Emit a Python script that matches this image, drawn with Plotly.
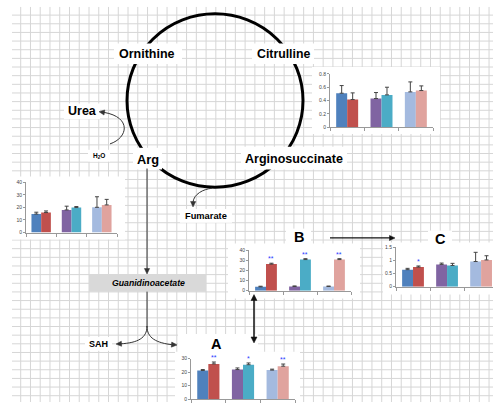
import math
import plotly.graph_objects as go

W, H = 493, 405
FONT = "Liberation Sans, Arial, sans-serif"
BARGAP = 0.36

# ---------------- data ----------------
groups = [0, 1, 2]
left_colors = ["#4f81bd", "#8064a2", "#a4badf"]
right_colors = ["#c0504d", "#4bacc6", "#e0a39e"]

cit_left = [0.51, 0.43, 0.53]
cit_left_err = [0.115, 0.09, 0.15]
cit_right = [0.415, 0.485, 0.55]
cit_right_err = [0.10, 0.115, 0.07]
cit_stars = ["", "", ""]
cit_ticks = [0, 0.2, 0.4, 0.6, 0.8]
cit_ticktext = ["0", "0.2", "0.4", "0.6", "0.8"]

arg_left = [14.7, 18.0, 20.1]
arg_left_err = [1.5, 3.0, 8.4]
arg_right = [15.9, 19.9, 22.0]
arg_right_err = [1.3, 0.8, 4.4]
arg_stars = ["", "", ""]
arg_ticks = [0, 10, 20, 30, 40]
arg_ticktext = ["0", "10", "20", "30", "40"]

b_left = [3.8, 4.1, 4.1]
b_left_err = [0.6, 0.6, 0.5]
b_right = [26.3, 30.8, 30.8]
b_right_err = [0.9, 0.9, 0.9]
b_stars = ["**", "**", "**"]
b_ticks = [0, 10, 20, 30, 40]
b_ticktext = ["0", "10", "20", "30", "40"]

c_left = [0.65, 0.85, 0.96]
c_left_err = [0.05, 0.05, 0.35]
c_right = [0.75, 0.81, 1.02]
c_right_err = [0.04, 0.08, 0.16]
c_stars = ["*", "", ""]
c_ticks = [0, 0.5, 1, 1.5]
c_ticktext = ["0", "0.5", "1", "1.5"]

a_left = [21.2, 21.9, 21.5]
a_left_err = [0.7, 1.2, 0.7]
a_right = [26.1, 25.5, 24.4]
a_right_err = [1.4, 1.3, 1.6]
a_stars = ["**", "*", "**"]
a_ticks = [0, 10, 20, 30]
a_ticktext = ["0", "10", "20", "30"]

insets = [
    dict(l=cit_left, le=cit_left_err, r=cit_right, re=cit_right_err, st=cit_stars,
         tv=cit_ticks, tt=cit_ticktext, box=(330, 433, 72, 126), yr=[0, 0.8], xr=[-0.5, 2.5]),
    dict(l=arg_left, le=arg_left_err, r=arg_right, re=arg_right_err, st=arg_stars,
         tv=arg_ticks, tt=arg_ticktext, box=(26, 117, 182, 233), yr=[0, 40], xr=[-0.5, 2.5]),
    dict(l=b_left, le=b_left_err, r=b_right, re=b_right_err, st=b_stars,
         tv=b_ticks, tt=b_ticktext, box=(249, 351, 251, 292), yr=[0, 40], xr=[-0.5, 2.5]),
    dict(l=c_left, le=c_left_err, r=c_right, re=c_right_err, st=c_stars,
         tv=c_ticks, tt=c_ticktext, box=(396, 493, 248, 288), yr=[0, 1.5], xr=[-0.5, 2.35]),
    dict(l=a_left, le=a_left_err, r=a_right, re=a_right_err, st=a_stars,
         tv=a_ticks, tt=a_ticktext, box=(191, 295, 361, 402), yr=[0, 30], xr=[-0.5, 2.5]),
]

fig = go.Figure()
annotations = []
shapes = []

fig.update_layout(
    xaxis=dict(range=[0, W], domain=[0, 1], visible=False, fixedrange=True),
    yaxis=dict(range=[H, 0], domain=[0, 1], visible=False, fixedrange=True),
)
fig.add_trace(go.Scatter(x=[0], y=[0], mode="markers", marker=dict(opacity=0),
                         hoverinfo="skip", showlegend=False, xaxis="x", yaxis="y"))

half = (1 - BARGAP) / 4.0
for i, ins in enumerate(insets):
    n = i + 2
    xa, ya = f"x{n}", f"y{n}"
    x0, x1, y0, y1 = ins["box"]
    for vals, errs, cols in ((ins["l"], ins["le"], left_colors), (ins["r"], ins["re"], right_colors)):
        fig.add_trace(go.Bar(x=groups, y=vals, marker=dict(color=cols, line=dict(width=0)),
                             error_y=dict(type="data", array=errs, arrayminus=[0, 0, 0], symmetric=False,
                                          color="#444", thickness=1, width=2),
                             xaxis=xa, yaxis=ya, showlegend=False, hoverinfo="skip"))
    fig.layout[f"xaxis{n}"] = dict(domain=[x0 / W, min(x1 / W, 1)], range=ins["xr"], anchor=ya,
                                    tickvals=[-0.5, 0.5, 1.5, 2.5], ticks="outside", ticklen=3,
                                    tickcolor="#999", showticklabels=False, showgrid=False,
                                    showline=True, linecolor="#999", linewidth=1, zeroline=False,
                                    fixedrange=True)
    fig.layout[f"yaxis{n}"] = dict(domain=[1 - y1 / H, 1 - y0 / H], range=ins["yr"], anchor=xa,
                                    tickvals=ins["tv"], ticktext=ins["tt"], ticks="outside",
                                    ticklen=2, tickcolor="#999",
                                    tickfont=dict(size=5, color="#444", family=FONT),
                                    showgrid=False, showline=True, linecolor="#999", linewidth=1,
                                    zeroline=False, fixedrange=True)
    for g, s in enumerate(ins["st"]):
        if s:
            annotations.append(dict(x=g + half, y=ins["r"][g] + ins["re"][g], xref=xa, yref=ya,
                                    text=s, showarrow=False, yanchor="bottom", yshift=-1,
                                    font=dict(size=7, color="#2a3cff", family=FONT)))

# ---------------- background grid ----------------
GRID = "#d6d6d6"
gx = 20.7
while gx < W:
    shapes.append(dict(type="line", xref="x", yref="y", x0=gx, x1=gx, y0=4, y1=H,
                       line=dict(color=GRID, width=1), layer="below"))
    gx += 9.757
gy = 12.3
while gy < H:
    shapes.append(dict(type="line", xref="x", yref="y", x0=12, x1=W, y0=gy, y1=gy,
                       line=dict(color=GRID, width=1), layer="below"))
    gy += 8.78

def white(x0, y0, x1, y1):
    shapes.append(dict(type="rect", xref="x", yref="y", x0=x0, x1=x1, y0=y0, y1=y1,
                       fillcolor="white", line=dict(width=0), layer="below"))

white(312, 65, 440, 133)
white(5, 176, 125, 240)
white(228, 244, 360, 300)
white(383, 243, 493, 296)
white(175, 354, 300, 405)

shapes.append(dict(type="circle", xref="x", yref="y", x0=127, x1=303, y0=11, y1=187,
                   line=dict(color="black", width=3), layer="below"))

white(114, 41, 182, 62)
white(252, 41, 314, 62)
white(64, 102, 100, 118)
white(88, 149, 110, 161)
white(133, 147, 162, 169)
white(241, 146, 347, 169)
white(180, 209, 232, 223)
white(85, 339, 112, 353)
white(178, 336, 258, 357)
white(286, 229, 311, 246)
white(428, 231, 452, 247)

shapes.append(dict(type="rect", xref="x", yref="y", x0=89, x1=206, y0=275, y1=293,
                   fillcolor="#d9d9d9", line=dict(width=0), layer="below"))

LC = "#333333"
def path(d, w=1, c=LC):
    shapes.append(dict(type="path", xref="x", yref="y", path=d,
                       line=dict(color=c, width=w), layer="below"))

def head(x, y, fx, fy, c=LC, L=5.5, hw=2.6):
    dx, dy = x - fx, y - fy
    d = math.hypot(dx, dy)
    ux, uy = dx / d, dy / d
    bx, by = x - ux * L, y - uy * L
    px, py = -uy * hw, ux * hw
    shapes.append(dict(type="path", xref="x", yref="y",
                       path=f"M{x:.2f},{y:.2f} L{bx + px:.2f},{by + py:.2f} L{bx - px:.2f},{by - py:.2f} Z",
                       fillcolor=c, line=dict(color=c, width=0.5), layer="below"))

path("M147,168 L147,270")
head(147, 275, 147, 168)
path("M147,293 L147,329")
path("M147,328 C147,340 138,345 120,346")
head(116, 346.2, 123, 345.8)
path("M147,328 C147,340 156,345 173,347")
head(177, 347.2, 170, 346.6)
path("M212,188 C203,189 194,194 193,202")
head(193, 207, 193.2, 200)
path("M110,143 C128,137 132,116 104,111")
head(99, 110.3, 106, 111.4)
path("M330,238.5 L390,238.5", w=1.2, c="#111")
head(395, 238.5, 330, 238.5, c="#111")
path("M254,301 L254,340", w=1.5, c="#111")
head(254, 345, 254, 300, c="#111", L=6, hw=3)
head(254, 296, 254, 340, c="#111", L=6, hw=3)

def label(t, x, y, size, italic=False):
    txt = f"<b>{t}</b>"
    if italic:
        txt = f"<i>{txt}</i>"
    annotations.append(dict(x=x, y=y, xref="x", yref="y", text=txt, showarrow=False,
                            font=dict(size=size, color="black", family=FONT),
                            xanchor="center", yanchor="middle"))

label("Ornithine", 147, 52, 12.5)
label("Citrulline", 283.5, 52, 12.3)
label("Urea", 82, 110, 12.5)
label("Arg", 147.5, 159, 12.8)
label("Arginosuccinate", 294, 158, 12.5)
label("Fumarate", 206, 216, 9.3)
label("SAH", 98.5, 346, 9)
label("Guanidinoacetate", 148, 284, 8.7, italic=True)
label("A", 216, 346, 14.5)
label("B", 298.5, 237.5, 14.5)
label("C", 440, 240, 14.5)
annotations.append(dict(x=99, y=155, xref="x", yref="y", text="<b>H<sub>2</sub>O</b>", showarrow=False,
                        font=dict(size=6.5, color="black", family=FONT)))

fig.update_layout(
    width=W, height=H, margin=dict(l=0, r=0, t=0, b=0),
    paper_bgcolor="white", plot_bgcolor="white",
    barmode="group", bargap=BARGAP, bargroupgap=0,
    showlegend=False, shapes=shapes, annotations=annotations,
    font=dict(family=FONT),
)

fig.write_html("out.html", config={"displayModeBar": False, "staticPlot": True},
               post_script="document.body.style.margin='0';document.body.style.padding='0';")
